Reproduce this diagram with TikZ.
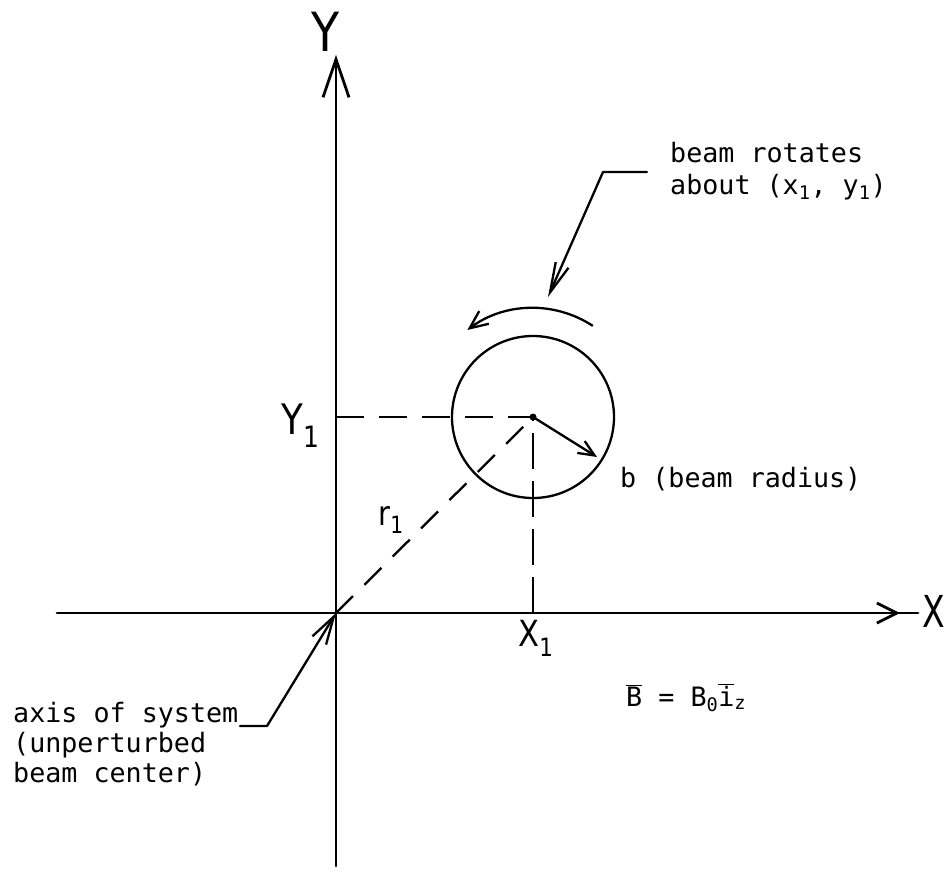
\documentclass[tikz,border=0pt]{standalone}
\usepackage{fontspec}
\newfontfamily\tw{DejaVu Sans Mono}
\newfontfamily\hw{DejaVu Sans}
\usetikzlibrary{arrows.meta}
\begin{document}
\begin{tikzpicture}[x=1pt,y=-1pt,line cap=round,line join=round,
  axisline/.style={line width=2.8pt},
  thinline/.style={line width=2.3pt},
  dashline/.style={line width=2.3pt,line cap=butt},
  typed/.style={font=\tw\fontsize{26.7}{31}\selectfont,inner sep=0pt,anchor=base west},
  hand/.style={font=\hw\fontsize{#1}{#1}\selectfont,inner sep=0pt},
]
\fill[white] (0,0) rectangle (948,884);
\useasboundingbox (0,0) rectangle (948,884);
% points
\coordinate (O) at (336,613);
\coordinate (C) at (533,417);
\coordinate (Ytop) at (336,55);
\coordinate (Ybot) at (336,866);
\coordinate (Xl) at (57,613);
\coordinate (Xr) at (918,613);
\coordinate (Xtip) at (900,613);
\coordinate (Xtail) at (870,613);
\coordinate (Y1) at (336,417);
\coordinate (X1) at (533,613);
\coordinate (Rtip) at (597,457);
\coordinate (L1a) at (647,172);
\coordinate (L1b) at (603,172);
\coordinate (L1tip) at (548,297);
\coordinate (L2a) at (240,726);
\coordinate (L2b) at (267,726);
% axes
\draw[axisline,-{Straight Barb[length=38pt,width=26pt]}] (Ybot) -- (Ytop);
\draw[axisline] (Xl) -- (Xr);
\draw[axisline,-{Straight Barb[length=20pt,width=20pt]}] (Xtail) -- (Xtip);
% beam
\draw[thinline] (C) circle[radius=81pt];
\fill (C) circle[radius=3.5pt];
\draw[dashline,dash pattern=on 28pt off 15pt] (Y1) -- (C);
\draw[dashline,dash pattern=on 36pt off 12pt] (X1) -- (C);
\draw[dashline,dash pattern=on 24pt off 16pt] (O) -- (C);
\draw[thinline,-{Straight Barb[length=16pt,width=14pt]}] (C) -- (Rtip);
\draw[thinline,-{Straight Barb[length=18pt,width=16pt]}] ([shift={(57:109pt)}]C) arc[start angle=57,end angle=127,radius=109pt];
% leaders
\draw[thinline,-{Straight Barb[length=30pt,width=14pt]}] (L1a) -- (L1b) -- (L1tip);
\draw[thinline,-{Straight Barb[length=28pt,width=16pt]}] (L2a) -- (L2b) -- (O);
% typed texts
\node[typed] (t1) at (670,162) {beam rotates};
\node[typed] (t2) at (670,194) {about (x\textsubscript{1}, y\textsubscript{1})};
\node[typed] (t3) at (620,487) {b (beam radius)};
\node[typed] (t4) at (13,722) {axis of system};
\node[typed] (t5) at (13,752) {(unperturbed};
\node[typed] (t6) at (13,782) {beam center)};
\node[typed] (t7) at (626,706) {$\overline{\hbox{B}}$ = B\textsubscript{0}$\overline{\hbox{i}}$\textsubscript{z}};
% handwritten labels
\node[hand=54] (Ylab) at (326,32) {\scalebox{0.85}[1]{Y}};
\node[hand=44] (Xlab) at (934,611) {\scalebox{0.75}[1]{X}};
\node[hand=42] (Y1lab) at (301,426) {\scalebox{0.85}[1]{Y\textsubscript{1}}};
\node[hand=36] (X1lab) at (536,638) {\scalebox{0.85}[1]{X\textsubscript{1}}};
\node[hand=34] (r1lab) at (391,520) {\scalebox{0.85}[1]{r\textsubscript{1}}};
\end{tikzpicture}
\end{document}
